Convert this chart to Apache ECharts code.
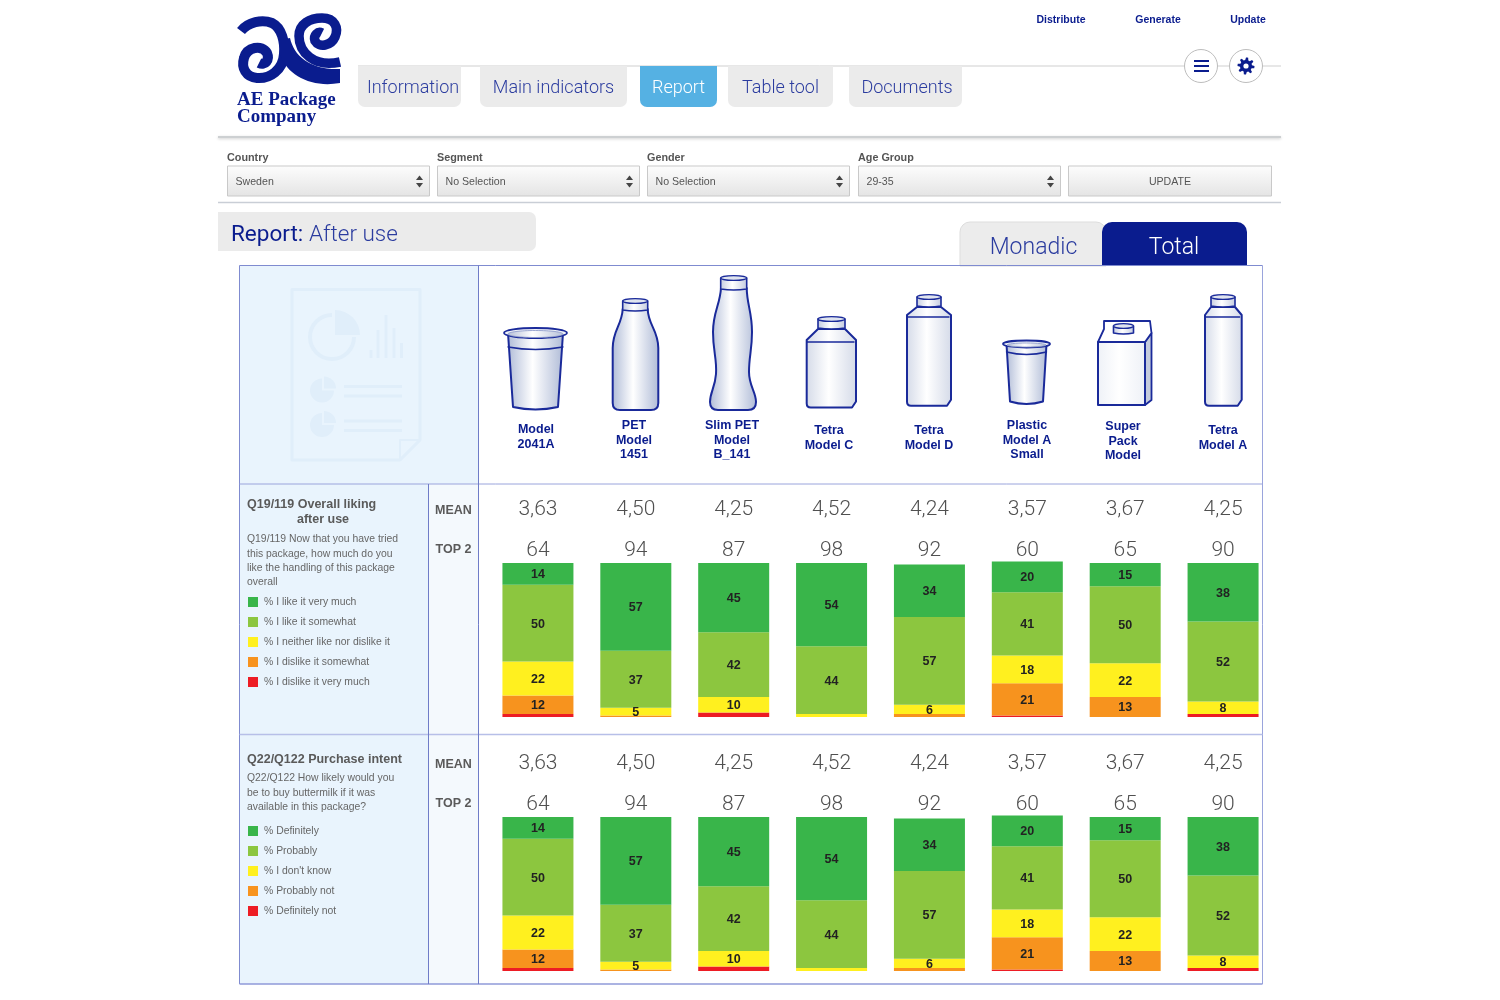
<!DOCTYPE html>
<html>
<head>
<meta charset="utf-8">
<title>Report: After use</title>
<script src="https://cdn.jsdelivr.net/npm/echarts@6/dist/echarts.min.js"></script>
<style>
html, body { margin: 0; padding: 0; background: #fff; }
#chart { width: 1500px; height: 1000px; }
</style>
</head>
<body>
<div id="chart"></div>
<script>
var modelNames = ['Model\n2041A', 'PET\nModel\n1451', 'Slim PET\nModel\nB_141', 'Tetra\nModel C', 'Tetra\nModel D', 'Plastic\nModel A\nSmall', 'Super\nPack\nModel', 'Tetra\nModel A'];
var meanLabels = ['3,63', '4,50', '4,25', '4,52', '4,24', '3,57', '3,67', '4,25'];
var top2Labels = ['64', '94', '87', '98', '92', '60', '65', '90'];

// the reference shows the same figures in both questions
var topBox = [14, 57, 45, 54, 34, 20, 15, 38];
var secondBox = [50, 37, 42, 44, 57, 41, 50, 52];
var middleBox = [22, 5, 10, 2, 6, 18, 22, 8];
var fourthBox = [12, 1, 0, 0, 2, 21, 13, 0];
var bottomBox = [2, 0, 3, 0, 0, 1, 0, 2];

var likingLegend = ['% I like it very much', '% I like it somewhat', '% I neither like nor dislike it', '% I dislike it somewhat', '% I dislike it very much'];
var intentLegend = ['% Definitely', '% Probably', '% I don\'t know', '% Probably not', '% Definitely not'];
var boxColors = ['#39b54a', '#8cc63f', '#fff01f', '#f7931e', '#ed1c24'];

var navy = '#0a1c8e';
var sans = '"Liberation Sans"';
var light = '300 18px Roboto';
var els = [];
var pathCount = 0;

function rect(x, y, w, h, fill, r, stroke) {
    els.push({ type: 'rect', shape: { x: x, y: y, width: w, height: h, r: r || 0 }, style: { fill: fill, stroke: stroke || null, lineWidth: stroke ? 1 : 0 } });
}
function line(x1, y1, x2, y2, color, width) {
    els.push({ type: 'line', shape: { x1: x1, y1: y1, x2: x2, y2: y2 }, style: { stroke: color, lineWidth: width || 1 } });
}
function text(x, y, str, font, fill, align, lineHeight) {
    els.push({ type: 'text', z: 3, style: { x: x, y: y, text: str, font: font, fill: fill, textAlign: align || 'left', textVerticalAlign: 'middle', lineHeight: lineHeight } });
}
// the graphic component has no plain path type, so each drawing gets its own registered shape
function path(d, fill, stroke, width, cap) {
    var shapeName = 'drawing' + (pathCount++);
    echarts.graphic.registerShape(shapeName, echarts.graphic.extendPath(d, {}));
    els.push({ type: shapeName, style: { fill: fill || null, stroke: stroke || null, lineWidth: width || 0, lineCap: cap || 'round', lineJoin: 'round' } });
}
function shade(edge) {
    return { type: 'linear', x: 0, y: 0, x2: 1, y2: 0, colorStops: [{ offset: 0, color: edge }, { offset: 0.45, color: '#ffffff' }, { offset: 1, color: edge }] };
}
var fade = { type: 'linear', x: 0, y: 0, x2: 0, y2: 1, colorStops: [{ offset: 0, color: '#fdfdfd' }, { offset: 1, color: '#e4e4e4' }] };

// logo
path('M241 31 C248 22 262 19 272 23 C282 28 285 42 284 54 C283 70 270 79 257 78 C246 77 241 68 244 58 C247 47 262 44 267 53 C270 60 265 66 259 63', null, navy, 10, 'butt');
path('M280 40 L290 38 C294 56 310 70 340 69 L340 83 C312 88 288 76 280 55 Z', navy);
path('M340 62 C314 68 299 52 299 36 C299 24 310 18 322 18 C335 18 339 28 335 37 C331 46 319 48 315 41 C313 35 318 31 322 33', null, navy, 9.5, 'butt');
text(237, 100, 'AE Package', 'bold 19px "Liberation Serif"', navy);
text(237, 117, 'Company', 'bold 19px "Liberation Serif"', navy);

// top menu
text(1061, 20, 'Distribute', 'bold 10.5px ' + sans, navy, 'center');
text(1158, 20, 'Generate', 'bold 10.5px ' + sans, navy, 'center');
text(1248, 20, 'Update', 'bold 10.5px ' + sans, navy, 'center');
line(358, 66, 1281, 66, '#cfcfcf');
rect(358, 66, 103, 41, '#ebebeb', [0, 0, 7, 7]);
rect(480, 66, 147, 41, '#ebebeb', [0, 0, 7, 7]);
rect(640, 66, 77, 41, '#55b1e3', [0, 0, 7, 7]);
rect(728, 66, 105, 41, '#ebebeb', [0, 0, 7, 7]);
rect(849, 66, 113, 41, '#ebebeb', [0, 0, 7, 7]);
text(413, 88, 'Information', light, '#2b3c9f', 'center');
text(553.5, 88, 'Main indicators', light, '#2b3c9f', 'center');
text(678.5, 88, 'Report', light, '#ffffff', 'center');
text(780.5, 88, 'Table tool', light, '#2b3c9f', 'center');
text(907, 88, 'Documents', light, '#2b3c9f', 'center');
els.push({ type: 'circle', shape: { cx: 1201, cy: 66, r: 16.5 }, style: { fill: '#fff', stroke: '#bdbdbd', lineWidth: 1 } });
els.push({ type: 'circle', shape: { cx: 1246, cy: 66, r: 16.5 }, style: { fill: '#fff', stroke: '#bdbdbd', lineWidth: 1 } });
line(1194, 61, 1209, 61, navy, 2);
line(1194, 66, 1209, 66, navy, 2);
line(1194, 71, 1209, 71, navy, 2);
var gear = '';
for (var t = 0; t < 48; t++) {
    var gr = (t % 6 < 3) ? 8.5 : 6;
    gear += (t ? 'L' : 'M') + (1246 + gr * Math.cos(t * Math.PI / 24)).toFixed(2) + ' ' + (66 + gr * Math.sin(t * Math.PI / 24)).toFixed(2) + ' ';
}
path(gear + 'Z', navy);
els.push({ type: 'circle', shape: { cx: 1246, cy: 66, r: 2.6 }, style: { fill: '#fff' } });

els.push({ type: 'line', shape: { x1: 218, y1: 137, x2: 1281, y2: 137 }, style: { stroke: '#cdd0d2', lineWidth: 2, shadowBlur: 3, shadowColor: '#cccccc', shadowOffsetY: 1 } });

// filter row
function select(x, w, label, value) {
    text(x, 158, label, 'bold 10.8px ' + sans, '#555555');
    rect(x + 0.5, 166, w - 1, 30, fade, 0, '#c9c9c9');
    text(x + 8.5, 182, value, '10.6px ' + sans, '#555555');
    path('M' + (x + 189) + ' 180 L' + (x + 192.5) + ' 175.5 L' + (x + 196) + ' 180 Z', '#444444');
    path('M' + (x + 189) + ' 183 L' + (x + 192.5) + ' 187.5 L' + (x + 196) + ' 183 Z', '#444444');
}
select(227, 203, 'Country', 'Sweden');
select(437, 203, 'Segment', 'No Selection');
select(647, 203, 'Gender', 'No Selection');
select(858, 203, 'Age Group', '29-35');
rect(1068.5, 166, 203, 30, fade, 0, '#c9c9c9');
text(1170, 182, 'UPDATE', '10.6px ' + sans, '#555555', 'center');
line(218, 202.5, 1281, 202.5, '#c9ced6', 1.5);

// report header and tabs
rect(218, 212, 318, 39, '#ebebeb', [0, 7, 7, 0]);
text(231, 235.5, 'Report:', '400 22.5px Roboto', navy);
text(309, 235.5, 'After use', '300 22.5px Roboto', '#2b3c9f');
rect(960, 222, 146, 44, '#ececec', [10, 10, 0, 0], '#dddddd');
rect(1102, 222, 145, 44, navy, [10, 10, 0, 0]);
text(1033.5, 248.5, 'Monadic', '300 23px Roboto', '#2b3c9f', 'center');
text(1174, 248.5, 'Total', '300 23px Roboto', '#ffffff', 'center');

// table panels
rect(240, 266, 239, 218, '#e9f4fd');
rect(240, 484, 189, 500, '#e9f4fd');
rect(429, 484, 50, 500, '#f4f9fd');
line(239.5, 265.5, 1262.5, 265.5, '#7f8bd0');
line(239.5, 265.5, 239.5, 984, '#7f8bd0');
line(1262.5, 265.5, 1262.5, 984, '#9aa4dc');
line(239.5, 984, 1262.5, 984, '#8f9ad8', 1.5);
line(239.5, 484, 1262.5, 484, '#9aa4dc');
line(239.5, 734.5, 1262.5, 734.5, '#b7bfe8', 1.5);
line(478.5, 265.5, 478.5, 984, '#6f7cc8');
line(428.5, 484, 428.5, 984, '#6f7cc8');

// watermark report icon
var wm = '#e0eefa';
path('M292 289.5 L420 289.5 L420 440 L400 460 L292 460 Z', null, wm, 3);
path('M400 460 L400 440 L420 440', null, wm, 2);
els.push({ type: 'arc', shape: { cx: 332, cy: 337, r: 22, startAngle: 0, endAngle: Math.PI * 1.5 }, style: { stroke: wm, lineWidth: 4, fill: null } });
els.push({ type: 'sector', shape: { cx: 335, cy: 335, r: 25, r0: 0, startAngle: -Math.PI / 2, endAngle: 0 }, style: { fill: wm } });
line(371, 358, 371, 350, wm, 3);
line(378, 358, 378, 330, wm, 3);
line(386, 358, 386, 315, wm, 3);
line(394, 358, 394, 328, wm, 3);
line(401.5, 358, 401.5, 343, wm, 3);
[390.5, 425].forEach(function (cy) {
    els.push({ type: 'sector', shape: { cx: 322, cy: cy, r: 12, r0: 0, startAngle: 0, endAngle: Math.PI * 1.5 }, style: { fill: wm } });
    els.push({ type: 'sector', shape: { cx: 324, cy: cy - 2, r: 12, r0: 0, startAngle: -Math.PI / 2, endAngle: 0 }, style: { fill: wm } });
    line(344, cy - 4, 402, cy - 4, wm, 3);
    line(344, cy + 5.5, 402, cy + 5.5, wm, 3);
});

// package drawings
var ink = '#1a2a9a';
var cupBlue = shade('#aebad6');
function cup(cx, w1, w2, top, bottom, band, rim, ry) {
    path('M' + (cx - w1) + ' ' + top + ' L' + (cx - w2) + ' ' + (bottom - 3) + ' Q' + cx + ' ' + (bottom + 2) + ' ' + (cx + w2) + ' ' + (bottom - 3) + ' L' + (cx + w1) + ' ' + top + ' Z', cupBlue, ink, 2);
    path('M' + (cx - w1) + ' ' + band + ' Q' + cx + ' ' + (band + 5) + ' ' + (cx + w1) + ' ' + band, null, ink, 1.4);
    els.push({ type: 'ellipse', shape: { cx: cx, cy: top, rx: rim, ry: ry }, style: { fill: '#eef1f7', stroke: ink, lineWidth: 1.8 } });
    els.push({ type: 'ellipse', shape: { cx: cx, cy: top + 1, rx: rim - 4, ry: ry - 1.5 }, style: { fill: shade('#b6c0d8'), stroke: '#8794c8', lineWidth: 0.8 } });
}
function capTop(l, r, top, h) {
    var mid = (l + r) / 2;
    path('M' + l + ' ' + (top + 2) + ' L' + l + ' ' + (top + h) + ' Q' + mid + ' ' + (top + h + 2) + ' ' + r + ' ' + (top + h) + ' L' + r + ' ' + (top + 2) + ' Z', shade('#c2cadf'), ink, 1.6);
    els.push({ type: 'ellipse', shape: { cx: mid, cy: top + 2, rx: (r - l) / 2, ry: 2.4 }, style: { fill: '#dfe4ef', stroke: ink, lineWidth: 1.4 } });
}
function carton(l, r, capL, capR, capTopY, shoulder, bottom) {
    var neck = capTopY + 12;
    path('M' + capL + ' ' + neck + ' L' + l + ' ' + (shoulder - 2) + ' L' + l + ' ' + (bottom - 4) + ' Q' + l + ' ' + bottom + ' ' + (l + 4) + ' ' + bottom + ' L' + (r - 4) + ' ' + bottom + ' L' + r + ' ' + (bottom - 6) + ' L' + r + ' ' + (shoulder - 2) + ' L' + capR + ' ' + neck + ' Z', shade('#d4dae8'), ink, 2);
    path('M' + l + ' ' + shoulder + ' L' + (r - 2) + ' ' + shoulder, null, ink, 1.4);
    capTop(capL, capR, capTopY, 11);
}

cup(535.5, 27.5, 22.5, 333, 410, 347, 31.5, 5);
path('M622.7 309 C622 325 612.7 330 612.7 348 L612.7 403 Q612.7 410 620 410 L651 410 Q658.3 410 658.3 403 L658.3 348 C658.3 330 648 325 647.7 309 Z', cupBlue, ink, 2);
capTop(622.7, 647.7, 299, 11);
path('M721 288 C720 305 713 312 713 332 C713 352 717 358 716 374 C715 388 710 392 710 402 Q710 410 718 410 L748 410 Q756 410 756 402 C756 392 749 386 749 372 C749 356 752 350 752 332 C752 312 747 305 746.7 288 Z', cupBlue, ink, 2);
capTop(720.7, 746.7, 276, 13);
carton(806.7, 856, 818, 845, 317, 342, 407.5);
carton(907, 951, 917, 941, 295, 317, 405.7);
cup(1026.5, 20, 16.5, 344, 404.5, 352, 23.5, 3.5);
// gable top carton with handle
path('M1145 342 L1151.5 333 L1151.5 400 L1145 405 Z', '#c4cbdc', ink, 1.8);
path('M1098 342 L1104 329 L1104 321 L1150 321 L1151.5 333 L1145 342 Z', '#ffffff', ink, 1.8);
path('M1098 342 L1145 342 L1145 405 L1098 405 Z', shade('#eef1f7'), ink, 2);
capTop(1113.5, 1133.5, 324, 9);
carton(1205, 1241.7, 1211, 1235, 295, 317, 405.7);

var labelCenters = [536, 634, 732, 829, 929, 1027, 1123, 1223];
var labelMiddles = [437, 440.5, 440.5, 438, 438, 440.5, 441.5, 438];
for (var i = 0; i < modelNames.length; i++) {
    text(labelCenters[i], labelMiddles[i], modelNames[i], 'bold 12.5px ' + sans, navy, 'center', 14.5);
}

// question text
var grey = '#5a5a5a';
var body = '10.4px ' + sans;
text(247, 505, 'Q19/119 Overall liking', 'bold 12.5px ' + sans, grey);
text(323, 519.5, 'after use', 'bold 12.5px ' + sans, grey, 'center');
text(247, 539.5, 'Q19/119 Now that you have tried', body, '#666666');
text(247, 554, 'this package, how much do you', body, '#666666');
text(247, 568, 'like the handling of this package', body, '#666666');
text(247, 582.5, 'overall', body, '#666666');
text(247, 760, 'Q22/Q122 Purchase intent', 'bold 12.5px ' + sans, grey);
text(247, 778.5, 'Q22/Q122 How likely would you', body, '#666666');
text(247, 793, 'be to buy buttermilk if it was', body, '#666666');
text(247, 807.5, 'available in this package?', body, '#666666');
text(435, 511, 'MEAN', 'bold 12.5px ' + sans, grey);
text(435.5, 549.5, 'TOP 2', 'bold 12.5px ' + sans, grey);
text(435, 765, 'MEAN', 'bold 12.5px ' + sans, grey);
text(435.5, 803.5, 'TOP 2', 'bold 12.5px ' + sans, grey);

var boxes = [topBox, secondBox, middleBox, fourthBox, bottomBox];
var series = [];
function addStack(names, gridIndex, stack) {
    for (var b = boxes.length - 1; b >= 0; b--) {
        series.push({
            name: names[b],
            type: 'bar',
            stack: stack,
            xAxisIndex: gridIndex * 2,
            yAxisIndex: gridIndex,
            data: boxes[b],
            barWidth: 71,
            itemStyle: { color: boxColors[b] },
            label: {
                show: true,
                position: 'inside',
                offset: [0, 1],
                fontFamily: 'Liberation Sans',
                fontWeight: 'bold',
                fontSize: 12.5,
                color: '#222222',
                formatter: function (p) { return p.value >= 5 ? p.value : ''; }
            }
        });
    }
}
addStack(likingLegend, 0, 'liking');
addStack(intentLegend, 1, 'intent');

function labelAxis(gridIndex, labels, offset) {
    return {
        type: 'category',
        gridIndex: gridIndex,
        position: 'top',
        offset: offset,
        data: labels,
        axisLine: { show: false },
        axisTick: { show: false },
        axisLabel: { interval: 0, margin: -1, fontFamily: 'Roboto', fontWeight: 300, fontSize: 21, color: '#505050' }
    };
}
function valueAxis(gridIndex) {
    return { type: 'value', gridIndex: gridIndex, min: 0, max: 102, show: false };
}
function legendBlock(names, top) {
    return {
        data: names,
        orient: 'vertical',
        left: 243,
        top: top,
        icon: 'rect',
        itemWidth: 10,
        itemHeight: 10,
        itemGap: 10,
        selectedMode: false,
        textStyle: { fontFamily: 'Liberation Sans', fontSize: 10.4, color: '#666666', padding: [0, 0, 0, 1] }
    };
}

var option = {
    animation: false,
    backgroundColor: '#ffffff',
    grid: [
        { left: 489, width: 783, top: 560, height: 157 },
        { left: 489, width: 783, top: 814, height: 157 }
    ],
    xAxis: [
        labelAxis(0, top2Labels, 0),
        labelAxis(0, meanLabels, 41),
        labelAxis(1, top2Labels, 0),
        labelAxis(1, meanLabels, 41)
    ],
    yAxis: [valueAxis(0), valueAxis(1)],
    legend: [legendBlock(likingLegend, 592), legendBlock(intentLegend, 821)],
    graphic: { elements: els },
    series: series
};

var myChart = echarts.init(document.getElementById('chart'));
myChart.setOption(option);
window.addEventListener('resize', function () {
    myChart.resize();
});
</script>
</body>
</html>
